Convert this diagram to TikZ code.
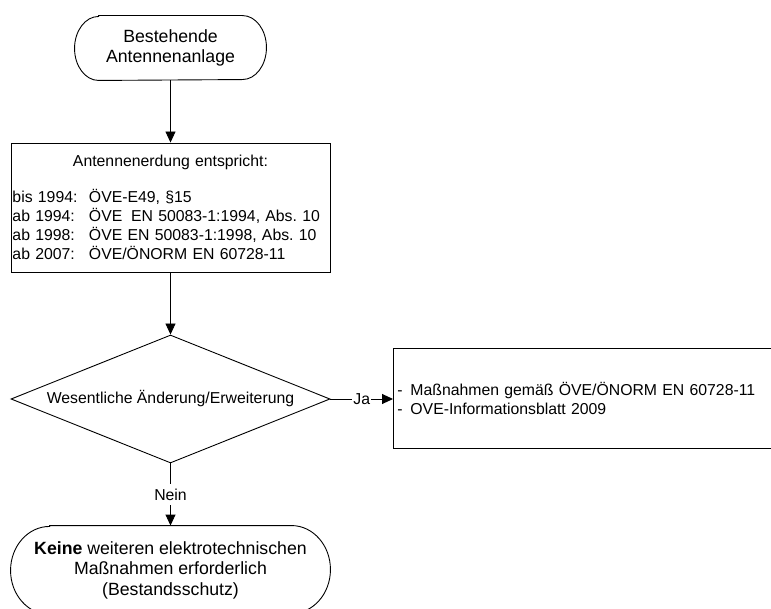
\documentclass[tikz,border=0pt]{standalone}
\usepackage{fontspec}
\setmainfont{Liberation Sans}
\frenchspacing
\usetikzlibrary{arrows.meta,shapes.geometric}
\tikzset{
  base/.style={font=\fontsize{15.8}{19}\selectfont, inner sep=0pt},
  termtext/.style={font=\fontsize{17.7}{20.5}\selectfont, align=center, inner sep=0pt},
  procbox/.style={draw, rectangle, base},
  decide/.style={draw, diamond, base, aspect=2.49, minimum width=319pt, minimum height=128pt},
  lbl/.style={base, fill=white, inner xsep=1pt, inner ysep=5pt},
  flow/.style={-{Triangle[length=11pt,width=10pt]}},
}
\begin{document}
\begin{tikzpicture}[x=1pt,y=-1pt,line width=0.9pt]
\useasboundingbox (0,0) rectangle (771,609);
% start terminator
\node[termtext, minimum width=191pt, minimum height=64pt] (start) at (170.5,48) {Bestehende\\Antennenanlage};
\draw ([xshift=24pt]start.north west) -- ([xshift=-24pt]start.north east)
  arc[start angle=90,end angle=-90,x radius=24pt,y radius=32pt]
  -- ([xshift=24pt]start.south west)
  arc[start angle=270,end angle=90,x radius=24pt,y radius=32pt] -- cycle;
% norm box
\node[procbox, minimum width=319pt, minimum height=129pt, text width=316pt, align=left, inner xsep=1.5pt] (norm) at (170.5,207.5)
{\makebox[316pt][c]{Antennenerdung entspricht:}\\[17pt]
\makebox[76.5pt][l]{bis 1994:}ÖVE-E49, §15\\
\makebox[76.5pt][l]{ab 1994:}ÖVE\hspace{0.55em}EN 50083-1:1994, Abs. 10\\
\makebox[76.5pt][l]{ab 1998:}ÖVE EN 50083-1:1998, Abs. 10\\
\makebox[76.5pt][l]{ab 2007:}ÖVE/ÖNORM EN 60728-11};
% decision
\node[decide] (dec) at (170.5,399) {Wesentliche Änderung/Erweiterung};
% measures box
\node[procbox, anchor=north west, minimum width=420pt, minimum height=100pt, text width=412pt, align=left, inner xsep=4pt] (meas) at (393,348)
{\makebox[13pt][l]{-}Maßnahmen gemäß ÖVE/ÖNORM EN 60728-11\\
\makebox[13pt][l]{-}OVE-Informationsblatt 2009};
% end terminator
\node[termtext, minimum width=319pt, minimum height=88pt] (end) at (170.5,570)
{\textbf{Keine} weiteren elektrotechnischen\\Maßnahmen erforderlich\\(Bestandsschutz)};
\draw ([xshift=39pt]end.north west) -- ([xshift=-39pt]end.north east)
  arc[start angle=90,end angle=-90,x radius=39pt,y radius=44pt]
  -- ([xshift=39pt]end.south west)
  arc[start angle=270,end angle=90,x radius=39pt,y radius=44pt] -- cycle;
% connectors
\draw[flow] (start) -- (norm);
\draw[flow] (norm) -- (dec);
\draw[flow] (dec.east) -- node[lbl] {Ja} (meas.west |- dec.east);
\draw[flow] (dec) -- node[lbl] {Nein} (end);
\end{tikzpicture}
\end{document}
